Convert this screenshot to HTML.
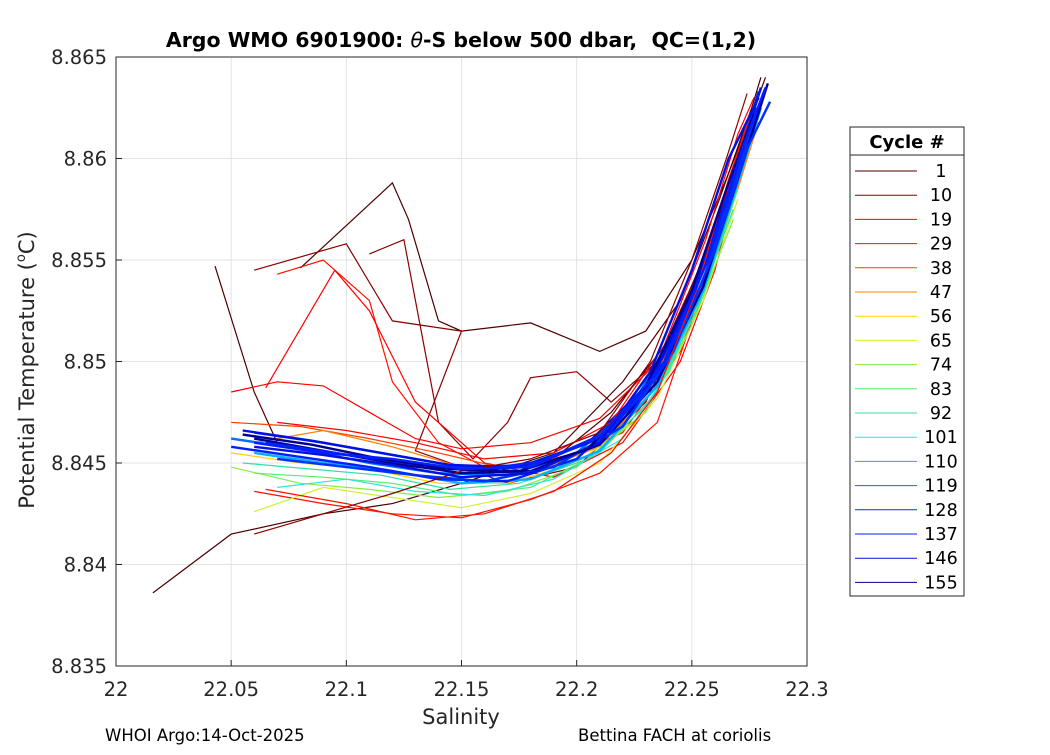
<!DOCTYPE html>
<html><head><meta charset="utf-8"><style>
body{margin:0;background:#fff;width:1050px;height:750px;overflow:hidden;font-family:"Liberation Sans","DejaVu Sans",sans-serif}
</style></head><body>
<svg id="chart" width="1050" height="750" xmlns="http://www.w3.org/2000/svg" font-family="DejaVu Sans, Liberation Sans, sans-serif">
<rect width="1050" height="750" fill="#fff"/>
<g id="grid"></g>
<g id="lines"></g>
<rect x="116" y="57" width="691" height="609" fill="none" stroke="#262626" stroke-width="1"/>
<g id="ticks"></g>
<text x="461" y="47" text-anchor="middle" font-size="20.5" font-weight="bold" fill="#000">Argo WMO 6901900: <tspan font-style="italic" font-weight="normal">θ</tspan>-S below 500 dbar,&#160; QC=(1,2)</text>
<text x="461" y="724" text-anchor="middle" font-size="21" fill="#262626">Salinity</text>
<text transform="translate(34,370) rotate(-90)" text-anchor="middle" font-size="21" fill="#262626">Potential Temperature (<tspan dy="-9" font-size="13">o</tspan><tspan dy="9">C)</tspan></text>
<text x="105" y="741" font-size="16.5" fill="#000">WHOI Argo:14-Oct-2025</text>
<text x="578" y="741" font-size="16.5" fill="#000">Bettina FACH at coriolis</text>
<g id="legend">
<rect x="850" y="127" width="114" height="469" fill="#fff" stroke="#262626"/>
<line x1="850" y1="155" x2="964" y2="155" stroke="#262626"/>
<text x="907" y="148" text-anchor="middle" font-size="18" font-weight="bold">Cycle #</text>
</g>
</svg>
<script>
const xTicks=[22,22.05,22.1,22.15,22.2,22.25,22.3];
const yTicks=[8.835,8.84,8.845,8.85,8.855,8.86,8.865];
const yTickLabels=["8.835","8.84","8.845","8.85","8.855","8.86","8.865"];
const cycles=[1,10,19,29,38,47,56,65,74,83,92,101,110,119,128,137,146,155];
const colors=["#4d0000","#8b0000","#ff0000","#ff1000","#ff4000","#ff8000","#ffd000","#d0f030","#80f040","#50f070","#30e0a0","#30e0e0","#00b0ff","#0070ff","#0030ff","#0020ff","#0010e0","#000090"];
const profileColor=[0,0,0,1,1,2,3,2,3,4,5,6,7,8,9,10,11,12,13,14,15,16,17,14,15,2,3,1,16,17,15];
const profiles=[
[[22.016,8.8386],[22.05,8.8415],[22.09,8.8425],[22.12,8.8430],[22.15,8.8440],[22.19,8.8455],[22.22,8.849],[22.245,8.853],[22.262,8.858],[22.276,8.8625],[22.28,8.8640]],
[[22.043,8.8547],[22.06,8.8485],[22.07,8.8460],[22.10,8.8452],[22.13,8.8448],[22.16,8.8446],[22.19,8.8452],[22.215,8.8475],[22.24,8.851],[22.26,8.8565],[22.274,8.8615],[22.282,8.8640]],
[[22.08,8.8546],[22.12,8.8588],[22.127,8.8570],[22.14,8.8520],[22.15,8.8515],[22.18,8.8519],[22.21,8.8505],[22.23,8.8515],[22.25,8.855],[22.265,8.859],[22.278,8.8628]],
[[22.06,8.8545],[22.10,8.8558],[22.12,8.8520],[22.15,8.8515],[22.13,8.8456],[22.17,8.8440],[22.20,8.8448],[22.23,8.848],[22.25,8.853],[22.27,8.859],[22.28,8.8625]],
[[22.11,8.8553],[22.125,8.8560],[22.14,8.8470],[22.155,8.8452],[22.17,8.8470],[22.18,8.8492],[22.20,8.8495],[22.215,8.8480],[22.235,8.850],[22.255,8.855],[22.27,8.860],[22.278,8.8625]],
[[22.05,8.8485],[22.07,8.8490],[22.09,8.8488],[22.11,8.8475],[22.13,8.8462],[22.15,8.8457],[22.18,8.8460],[22.21,8.8472],[22.24,8.8505],[22.258,8.8555],[22.272,8.8610],[22.279,8.8632]],
[[22.07,8.8543],[22.09,8.8550],[22.11,8.8530],[22.12,8.8490],[22.14,8.8460],[22.16,8.8448],[22.19,8.8450],[22.22,8.8465],[22.245,8.8505],[22.263,8.8565],[22.276,8.8620]],
[[22.065,8.8487],[22.095,8.8545],[22.11,8.8525],[22.13,8.8480],[22.16,8.8450],[22.19,8.8443],[22.22,8.8460],[22.245,8.8500],[22.26,8.8545],[22.272,8.8600],[22.28,8.8625]],
[[22.06,8.8436],[22.09,8.8430],[22.12,8.8425],[22.15,8.8423],[22.18,8.8432],[22.21,8.8445],[22.235,8.8470],[22.25,8.852],[22.265,8.857],[22.275,8.8605]],
[[22.05,8.8470],[22.08,8.8468],[22.11,8.8462],[22.14,8.8455],[22.17,8.8447],[22.20,8.8455],[22.225,8.8478],[22.245,8.8515],[22.262,8.8565],[22.275,8.8612]],
[[22.06,8.8460],[22.09,8.8466],[22.12,8.8458],[22.15,8.8448],[22.18,8.8445],[22.21,8.8458],[22.235,8.8488],[22.255,8.8535],[22.27,8.8585],[22.279,8.8618]],
[[22.05,8.8455],[22.08,8.8450],[22.11,8.8447],[22.14,8.8440],[22.17,8.8440],[22.20,8.8450],[22.23,8.8475],[22.25,8.8520],[22.265,8.8570],[22.277,8.8612]],
[[22.06,8.8426],[22.09,8.8438],[22.12,8.8433],[22.15,8.8428],[22.18,8.8435],[22.21,8.8450],[22.235,8.8482],[22.255,8.8530],[22.27,8.858]],
[[22.05,8.8448],[22.08,8.8440],[22.11,8.8437],[22.14,8.8433],[22.17,8.8436],[22.20,8.8448],[22.23,8.8475],[22.25,8.8518],[22.268,8.857]],
[[22.06,8.8445],[22.09,8.8443],[22.12,8.8440],[22.15,8.8434],[22.18,8.8438],[22.21,8.8455],[22.235,8.8485],[22.255,8.8532],[22.27,8.8585]],
[[22.055,8.8450],[22.085,8.8447],[22.115,8.8444],[22.145,8.8437],[22.175,8.8440],[22.205,8.8452],[22.232,8.8480],[22.252,8.8525],[22.268,8.8575]],
[[22.07,8.8438],[22.10,8.8442],[22.13,8.8436],[22.16,8.8434],[22.19,8.8442],[22.22,8.8462],[22.24,8.8495],[22.258,8.8545],[22.272,8.8595]],
[[22.06,8.8455],[22.09,8.8450],[22.12,8.8446],[22.15,8.8440],[22.18,8.8442],[22.21,8.8456],[22.235,8.8488],[22.255,8.8535],[22.27,8.8588],[22.28,8.8625]],
[[22.05,8.8462],[22.08,8.8457],[22.11,8.8450],[22.14,8.8445],[22.17,8.8444],[22.20,8.8455],[22.225,8.8480],[22.245,8.8520],[22.263,8.8572],[22.276,8.8618]],
[[22.06,8.8465],[22.09,8.8460],[22.12,8.8454],[22.15,8.8448],[22.18,8.8449],[22.21,8.8462],[22.235,8.8492],[22.255,8.8540],[22.27,8.8592],[22.281,8.8632]],
[[22.05,8.8458],[22.08,8.8453],[22.11,8.8448],[22.14,8.8442],[22.17,8.8441],[22.20,8.8452],[22.228,8.8482],[22.248,8.8525],[22.265,8.8578],[22.278,8.8625]],
[[22.055,8.8466],[22.085,8.8461],[22.115,8.8455],[22.145,8.8449],[22.175,8.8448],[22.205,8.8460],[22.232,8.8490],[22.252,8.8538],[22.268,8.8590],[22.28,8.8635]],
[[22.06,8.8462],[22.09,8.8456],[22.12,8.8450],[22.15,8.8445],[22.18,8.8446],[22.21,8.8459],[22.235,8.8490],[22.255,8.8537],[22.27,8.8590],[22.283,8.8637]],
[[22.07,8.8452],[22.10,8.8448],[22.13,8.8444],[22.16,8.8441],[22.19,8.8448],[22.22,8.8468],[22.242,8.8505],[22.26,8.8555],[22.274,8.8605],[22.284,8.8628]],
[[22.065,8.8460],[22.095,8.8455],[22.125,8.8450],[22.155,8.8446],[22.185,8.8451],[22.215,8.8466],[22.238,8.8500],[22.256,8.8548],[22.27,8.8598],[22.279,8.8633]],
[[22.07,8.8470],[22.10,8.8466],[22.13,8.8460],[22.16,8.8452],[22.19,8.8455],[22.215,8.8470],[22.238,8.8508],[22.256,8.8560],[22.27,8.8612],[22.277,8.8630]],
[[22.065,8.8437],[22.10,8.8430],[22.13,8.8422],[22.16,8.8425],[22.19,8.8436],[22.215,8.8455],[22.235,8.8485],[22.252,8.8535],[22.266,8.8590],[22.275,8.8620]],
[[22.06,8.8415],[22.09,8.8425],[22.12,8.8435],[22.15,8.8446],[22.18,8.8452],[22.21,8.8465],[22.232,8.8500],[22.25,8.8550],[22.265,8.8600],[22.274,8.8632]],
[[22.06,8.8458],[22.09,8.8454],[22.12,8.8449],[22.15,8.8443],[22.18,8.8445],[22.21,8.8460],[22.232,8.8495],[22.25,8.8545],[22.266,8.8600],[22.279,8.8630]],
[[22.055,8.8464],[22.085,8.8459],[22.115,8.8452],[22.145,8.8447],[22.175,8.8446],[22.205,8.8457],[22.23,8.8488],[22.25,8.8535],[22.265,8.8585],[22.277,8.8622]],
[[22.06,8.8460],[22.09,8.8455],[22.12,8.8452],[22.15,8.8447],[22.18,8.8448],[22.21,8.8463],[22.237,8.8497],[22.257,8.8550],[22.272,8.8605],[22.282,8.8635]]
];
const NS="http://www.w3.org/2000/svg";
const X0=116,X1=807,Y0=666,Y1=57;
const xs=v=>X0+(v-22)/(0.3)*(X1-X0);
const ys=v=>Y0-(v-8.835)/(0.03)*(Y0-Y1);
function mk(tag,attrs,parent){const e=document.createElementNS(NS,tag);for(const k in attrs)e.setAttribute(k,attrs[k]);parent.appendChild(e);return e;}
const grid=document.getElementById('grid'),ticks=document.getElementById('ticks'),lines=document.getElementById('lines'),legend=document.getElementById('legend');
xTicks.forEach((t,i)=>{
 const x=xs(t);
 const g=mk('line',{x1:x,x2:x,y1:Y1,y2:Y0,stroke:'#e3e3e3'},grid);
 
 
 mk('line',{x1:x,x2:x,y1:Y0,y2:Y0-6,stroke:'#262626'},ticks);
 const tx=mk('text',{x:x,y:Y0+30,'text-anchor':'middle','font-size':'19.5',fill:'#262626'},ticks);
 tx.textContent=String(t);
 
 
});
yTicks.forEach((t,i)=>{
 const y=ys(t);
 const g=mk('line',{x1:X0,x2:X1,y1:y,y2:y,stroke:'#e3e3e3'},grid);
 
 
 mk('line',{x1:X0,x2:X0+6,y1:y,y2:y,stroke:'#262626'},ticks);
 const tx=mk('text',{x:X0-9,y:y+7,'text-anchor':'end','font-size':'19.5',fill:'#262626'},ticks);
 tx.textContent=yTickLabels[i];
 
 
});
profiles.forEach((p,i)=>{
 const ci=profileColor[i];
 const pl=mk('polyline',{points:p.map(d=>xs(d[0]).toFixed(1)+','+ys(d[1]).toFixed(1)).join(' '),fill:'none',stroke:colors[ci],'stroke-width':ci>=12?2.4:1.2},lines);
 
 
});
cycles.forEach((c,i)=>{
 const y=171+i*24.2;
 const l=mk('line',{x1:855,x2:917,y1:y,y2:y,stroke:colors[i]},legend);
 
 
 const t=mk('text',{x:941,y:y+6,'text-anchor':'middle','font-size':'17.5',fill:'#000'},legend);
 t.textContent=String(c);
 
 
});
</script>
</body></html>
